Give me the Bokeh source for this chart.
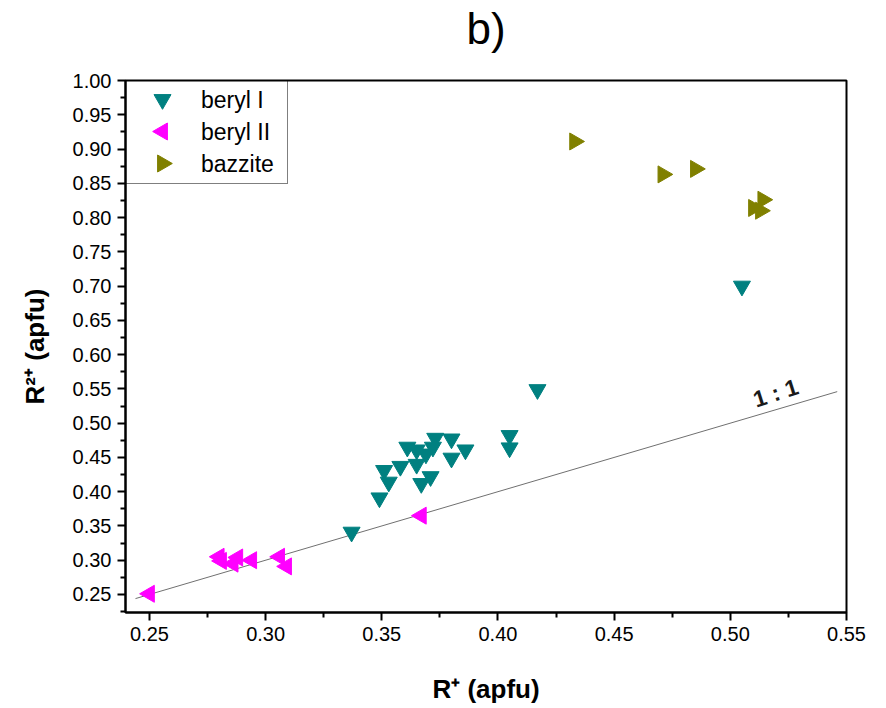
import math
from bokeh.plotting import figure
from bokeh.models import (Range1d, FixedTicker, NumeralTickFormatter, Label,
                          Legend, LegendItem, LinearAxis)
from bokeh.embed import file_html
from bokeh.resources import INLINE

# ---- data ----
beryl1_x = [0.337, 0.349, 0.353, 0.351, 0.358, 0.361, 0.365, 0.365, 0.367, 0.371,
            0.369, 0.372, 0.373, 0.380, 0.380, 0.386, 0.405, 0.405, 0.417, 0.505]
beryl1_y = [0.341, 0.391, 0.414, 0.431, 0.437, 0.465, 0.461, 0.440, 0.412, 0.422,
            0.455, 0.465, 0.478, 0.477, 0.449, 0.461, 0.482, 0.464, 0.549, 0.700]

beryl2_x = [0.250, 0.280, 0.281, 0.286, 0.288, 0.294, 0.306, 0.309, 0.367]
beryl2_y = [0.251, 0.305, 0.299, 0.295, 0.304, 0.300, 0.305, 0.291, 0.365]

bazzite_x = [0.433, 0.471, 0.485, 0.514, 0.510, 0.513]
bazzite_y = [0.911, 0.863, 0.871, 0.826, 0.814, 0.810]

one_to_one = [0.244, 0.546]

series_names = ["beryl I", "beryl II", "bazzite"]
series_colors = ["#008080", "#FF00FF", "#808000"]

x_ticks = [0.25, 0.30, 0.35, 0.40, 0.45, 0.50, 0.55]
y_ticks = [0.25, 0.30, 0.35, 0.40, 0.45, 0.50, 0.55, 0.60, 0.65, 0.70, 0.75,
           0.80, 0.85, 0.90, 0.95, 1.00]

FONT = "Liberation Sans"
X0, X1, Y0, Y1 = 0.2397, 0.55, 0.2237, 1.0
FW, FH = 721, 532  # frame size in px

p = figure(width=886, height=708, output_backend="svg", toolbar_location=None,
           x_range=Range1d(X0, X1), y_range=Range1d(Y0, Y1),
           min_border_left=125, min_border_right=40, min_border_top=80,
           min_border_bottom=96)
p.background_fill_color = "white"
p.border_fill_color = "white"
p.outline_line_color = "black"
p.outline_line_width = 2
p.xgrid.visible = False
p.ygrid.visible = False

xax = p.below[0]
yax = p.left[0]
for ax, ticks in ((xax, x_ticks), (yax, y_ticks)):
    ax.ticker = FixedTicker(ticks=ticks,
                            minor_ticks=[t + 0.025 for t in ticks] + [ticks[0] - 0.025])
    ax.formatter = NumeralTickFormatter(format="0.00")
    ax.axis_line_width = 2
    ax.major_tick_line_width = 2
    ax.minor_tick_line_width = 2
    ax.major_tick_in = 0
    ax.major_tick_out = 8
    ax.minor_tick_in = 0
    ax.minor_tick_out = 5
    ax.major_label_text_font = FONT
    ax.major_label_text_font_size = "20px"
    ax.major_label_text_color = "black"
    ax.major_label_standoff = 6
    ax.axis_label_text_font = FONT
    ax.axis_label_text_font_size = "26px"
    ax.axis_label_text_font_style = "bold"
    ax.axis_label_text_color = "black"

xax.axis_label = "R\u207a (apfu)"
xax.axis_label_standoff = 30
yax.axis_label = "R\u00b2\u207a (apfu)"
yax.axis_label_standoff = 20

# panel heading "b)" carried by a bare top axis so it can sit high above the frame
head = LinearAxis(ticker=FixedTicker(ticks=[], minor_ticks=[]), axis_label="b)",
                  axis_line_alpha=0, major_tick_out=0, major_tick_in=0,
                  minor_tick_out=0, minor_tick_in=0, major_label_standoff=0,
                  axis_label_standoff=28, axis_label_text_font=FONT,
                  axis_label_text_font_size="44px",
                  axis_label_text_font_style="normal",
                  axis_label_text_color="black")
p.add_layout(head, "above")

# 1:1 line
p.line(one_to_one, one_to_one, line_color="#707070", line_width=1)

p.scatter(beryl1_x, beryl1_y, marker="inverted_triangle", size=17,
          fill_color=series_colors[0], line_color=series_colors[0])
p.scatter(beryl2_x, beryl2_y, marker="triangle", angle=math.pi / 2, size=17,
          fill_color=series_colors[1], line_color=series_colors[1])
p.scatter(bazzite_x, bazzite_y, marker="triangle", angle=-math.pi / 2, size=17,
          fill_color=series_colors[2], line_color=series_colors[2])

# ---- legend: Bokeh legend for box and labels; rotated symbols drawn in its glyph slots ----
PAD, GW, GH = 3, 68, 32
dummies = [p.scatter([], [], marker="circle", alpha=0) for _ in series_names]
legend = Legend(items=[LegendItem(label=n, renderers=[r]) for n, r in zip(series_names, dummies)],
                location="top_left", margin=0, padding=PAD, spacing=0,
                glyph_width=GW, glyph_height=GH, label_standoff=4,
                label_width=83, label_height=GH,
                label_text_font=FONT, label_text_font_size="23px",
                label_text_color="black",
                border_line_color="black", border_line_width=1,
                background_fill_color="white", background_fill_alpha=0.0)
p.add_layout(legend)

sym_x = X0 + (PAD + GW / 2) * (X1 - X0) / FW
sym_y = [Y1 - (PAD + GH / 2 + i * GH) * (Y1 - Y0) / FH for i in range(3)]
p.scatter([sym_x], [sym_y[0]], marker="inverted_triangle", size=17,
          fill_color=series_colors[0], line_color=series_colors[0])
p.scatter([sym_x], [sym_y[1]], marker="triangle", angle=math.pi / 2, size=17,
          fill_color=series_colors[1], line_color=series_colors[1])
p.scatter([sym_x], [sym_y[2]], marker="triangle", angle=-math.pi / 2, size=17,
          fill_color=series_colors[2], line_color=series_colors[2])

# 1:1 annotation
p.add_layout(Label(x=0.5195, y=0.544, text="1 : 1", angle=0.31,
                   text_font=FONT, text_font_style="bold", text_font_size="23px",
                   text_color="#1a1a1a", text_align="center", text_baseline="middle"))

open("out.html", "w").write(file_html(p, INLINE))
